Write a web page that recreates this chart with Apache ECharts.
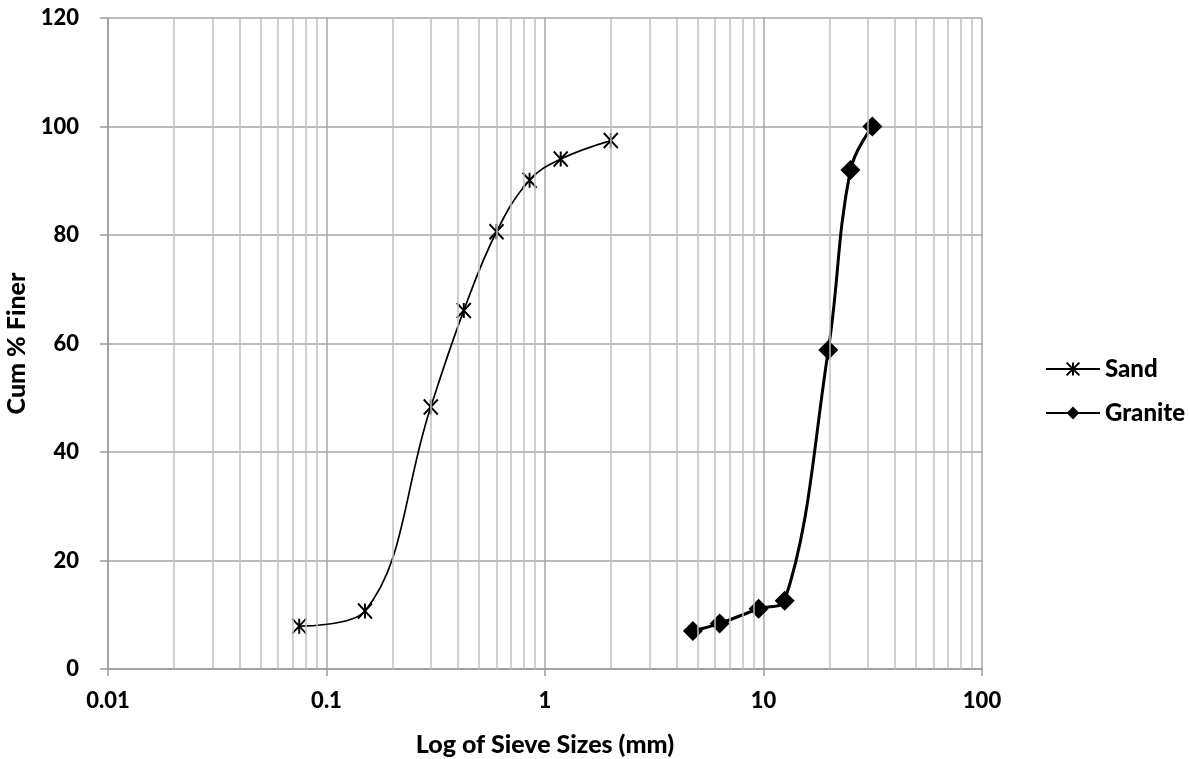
<!DOCTYPE html>
<html>
<head>
<meta charset="utf-8">
<script src="https://cdn.jsdelivr.net/npm/echarts@6/dist/echarts.min.js"></script>
<style>
  html, body { margin: 0; padding: 0; background: #fff; }
  #chart { width: 1190px; height: 759px; }
</style>
</head>
<body>
<div id="chart"></div>
<script>
// sieve sizes (mm) and cumulative % finer
var sandSize = [0.075, 0.15, 0.3, 0.425, 0.6, 0.85, 1.18, 2.0];
var sandFiner = [7.9, 10.7, 48.3, 66.1, 80.6, 90.1, 94.0, 97.4];
var graniteSize = [4.75, 6.3, 9.5, 12.5, 19.8, 25, 31.5];
var graniteFiner = [7.0, 8.4, 11.1, 12.6, 58.8, 92.0, 100.0];

var decades = [0.01, 0.1, 1, 10];
var minorSteps = [2, 3, 4, 5, 6, 7, 8, 9];

var font = 'Lato, "Open Sans", sans-serif';

function pairs(xs, ys) {
    return xs.map(function (x, i) { return [x, ys[i]]; });
}

// minor log grid lines (2..9 in every decade)
var minorLines = [];
decades.forEach(function (d) {
    minorSteps.forEach(function (k) {
        minorLines.push({ xAxis: +(k * d).toPrecision(3) });
    });
});

var chart = echarts.init(document.getElementById('chart'));

var option = {
    animation: false,
    backgroundColor: '#fff',
    textStyle: { fontFamily: font },
    grid: { left: 108, right: 208, top: 18, bottom: 90, outerBoundsMode: 'none' },
    legend: {
        orient: 'vertical',
        left: 1040,
        top: 352,
        itemWidth: 54,
        itemHeight: 16,
        itemGap: 20,
        data: ['Sand', 'Granite'],
        textStyle: { fontFamily: font, fontWeight: 900, fontSize: 24, color: '#000' }
    },
    xAxis: {
        type: 'log',
        logBase: 10,
        min: 0.01,
        max: 100,
        name: 'Log of Sieve Sizes (mm)',
        nameLocation: 'middle',
        nameGap: 63,
        nameTextStyle: { fontFamily: font, fontWeight: 900, fontSize: 25, color: '#000' },
        axisLine: { lineStyle: { color: '#9a9a9a', width: 1.5 } },
        axisTick: { show: true, length: 7, lineStyle: { color: '#9a9a9a', width: 1.5 } },
        axisLabel: {
            margin: 21,
            fontFamily: font, fontWeight: 900, fontSize: 22, color: '#000',
            formatter: function (v) { return String(+v.toPrecision(3)); }
        },
        splitLine: { show: true, lineStyle: { color: '#a6a6a6', width: 1.5 } }
    },
    yAxis: {
        type: 'value',
        min: 0,
        max: 120,
        interval: 20,
        name: 'Cum % Finer',
        nameLocation: 'middle',
        nameGap: 78,
        nameTextStyle: { fontFamily: font, fontWeight: 900, fontSize: 25, color: '#000' },
        axisLine: { show: true, lineStyle: { color: '#9a9a9a', width: 1.5 } },
        axisTick: { show: true, length: 8, lineStyle: { color: '#9a9a9a', width: 1.5 } },
        axisLabel: { margin: 29, fontFamily: font, fontWeight: 900, fontSize: 22, color: '#000' },
        splitLine: { show: true, lineStyle: { color: '#a6a6a6', width: 1.5 } }
    },
    series: [
        {
            name: 'minor',
            type: 'line',
            data: [],
            z: 1,
            markLine: {
                silent: true,
                symbol: ['none', 'none'],
                label: { show: false },
                lineStyle: { type: 'solid', color: '#bfbfbf', width: 1.5 },
                data: minorLines
            }
        },
        {
            name: 'Sand',
            type: 'line',
            smooth: 0.4,
            data: pairs(sandSize, sandFiner),
            symbol: 'path://M0,0L10,12M10,0L0,12M5,0L5,12',
            symbolSize: [14, 15],
            lineStyle: { color: '#000', width: 1.7 },
            itemStyle: { color: 'rgba(0,0,0,0)', borderColor: '#000', borderWidth: 2 },
            z: 3
        },
        {
            name: 'Granite',
            type: 'line',
            smooth: 0.4,
            data: pairs(graniteSize, graniteFiner),
            symbol: 'diamond',
            symbolSize: 20,
            lineStyle: { color: '#000', width: 3 },
            itemStyle: { color: '#000', borderColor: '#000', borderWidth: 0 },
            z: 3
        }
    ]
};

chart.setOption(option);
</script>
</body>
</html>
